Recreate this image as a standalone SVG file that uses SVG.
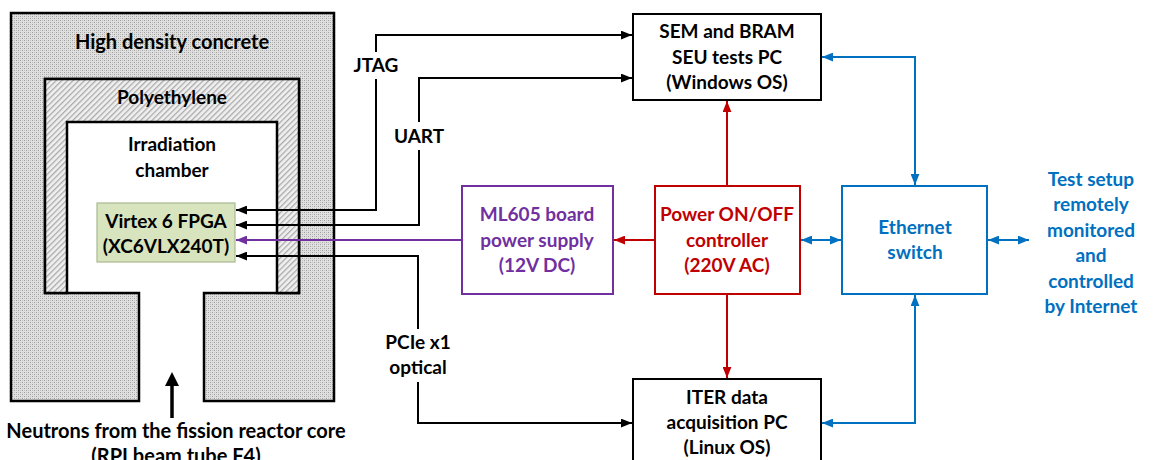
<svg xmlns="http://www.w3.org/2000/svg" width="1160" height="460" viewBox="0 0 1160 460">
<style>
text{font-family:Lato,"Liberation Sans",sans-serif;font-weight:bold;font-size:19px;text-anchor:middle}
.k{fill:#000}
.pu{fill:#7030a0}
.rd{fill:#c00000}
.bl{fill:#0070c0}
.big{font-size:20px}
.wall{stroke:#000;stroke-width:2.5}
.box{fill:#fff;stroke-width:2}
.cb{fill:none;stroke:#000;stroke-width:2}
.cr{fill:none;stroke:#c00000;stroke-width:2}
.cbl{fill:none;stroke:#0070c0;stroke-width:2}
.cp{fill:none;stroke:#7030a0;stroke-width:2}
</style>
<defs>
<pattern id="conc" width="4" height="4" patternUnits="userSpaceOnUse">
<rect width="4" height="4" fill="#e0e0e0"/>
<rect width="1" height="1" fill="#a0a0a0"/>
<rect x="2" y="2" width="1" height="1" fill="#a0a0a0"/>
<rect x="2" y="0" width="1" height="1" fill="#c0c0c0"/>
<rect x="0" y="2" width="1" height="1" fill="#c0c0c0"/>
</pattern>
<pattern id="poly" width="4" height="4" patternUnits="userSpaceOnUse" patternTransform="rotate(-45)">
<rect width="4" height="4" fill="#f0f0f0"/>
<rect width="4" height="1.3" fill="#aaaaaa"/>
</pattern>
<marker id="ak" viewBox="0 0 10 8" refX="10" refY="4" markerWidth="11" markerHeight="9" markerUnits="userSpaceOnUse" orient="auto-start-reverse"><path d="M0,0L10,4L0,8Z" fill="#000"/></marker>
<marker id="ar" viewBox="0 0 10 8" refX="10" refY="4" markerWidth="11" markerHeight="9" markerUnits="userSpaceOnUse" orient="auto-start-reverse"><path d="M0,0L10,4L0,8Z" fill="#c00000"/></marker>
<marker id="ab" viewBox="0 0 10 8" refX="10" refY="4" markerWidth="11" markerHeight="9" markerUnits="userSpaceOnUse" orient="auto-start-reverse"><path d="M0,0L10,4L0,8Z" fill="#0070c0"/></marker>
<marker id="ap" viewBox="0 0 10 8" refX="10" refY="4" markerWidth="11" markerHeight="9" markerUnits="userSpaceOnUse" orient="auto-start-reverse"><path d="M0,0L10,4L0,8Z" fill="#7030a0"/></marker>
</defs>
<rect width="1160" height="460" fill="#fff"/>

<g id="shielding">
<path class="wall" fill="url(#conc)" d="M11,13H334V401H204V293H299V79H45V293H139V401H11Z"/>
<path class="wall" fill="url(#poly)" d="M45,79H299V293H277V122H67V293H45Z"/>
<text class="k big" x="172" y="49">High density concrete</text>
<text class="k" x="172" y="104">Polyethylene</text>
<text class="k" x="172" y="151">Irradiation</text>
<text class="k" x="172" y="177">chamber</text>
</g>

<g id="fpga">
<rect x="97" y="203" width="138" height="59" fill="#d7e4bd" stroke="#a9b98f" stroke-width="1.2"/>
<text class="k" x="166" y="228">Virtex 6 FPGA</text>
<text class="k" x="166" y="253">(XC6VLX240T)</text>
</g>

<g id="neutrons">
<path d="M172,418V384" stroke="#000" stroke-width="3.5" fill="none"/>
<path d="M172,372L179,386H165Z" fill="#000"/>
<text class="k big" x="176" y="438">Neutrons from the fission reactor core</text>
<text class="k big" x="176" y="463">(RPI beam tube F4)</text>
</g>

<g id="sem">
<rect class="box" x="633" y="14" width="188" height="86" stroke="#000"/>
<text class="k" x="727" y="38">SEM and BRAM</text>
<text class="k" x="727" y="64">SEU tests PC</text>
<text class="k" x="727" y="89">(Windows OS)</text>
</g>

<g id="ml605">
<rect class="box" x="462" y="186" width="151" height="108" stroke="#7030a0"/>
<text class="pu" x="537" y="221">ML605 board</text>
<text class="pu" x="537" y="247">power supply</text>
<text class="pu" x="537" y="272">(12V DC)</text>
</g>

<g id="power">
<rect class="box" x="655" y="186" width="145" height="108" stroke="#c00000"/>
<text class="rd" x="727" y="221">Power ON/OFF</text>
<text class="rd" x="727" y="247">controller</text>
<text class="rd" x="727" y="272">(220V AC)</text>
</g>

<g id="ethernet">
<rect class="box" x="842" y="186" width="145" height="108" stroke="#0070c0"/>
<text class="bl" x="915" y="234">Ethernet</text>
<text class="bl" x="915" y="259">switch</text>
</g>

<g id="iter">
<rect class="box" x="633" y="379" width="188" height="90" stroke="#000"/>
<text class="k" x="727" y="404">ITER data</text>
<text class="k" x="727" y="429">acquisition PC</text>
<text class="k" x="727" y="454">(Linux OS)</text>
</g>

<g id="internet">
<text class="bl" x="1091" y="186">Test setup</text>
<text class="bl" x="1091" y="211">remotely</text>
<text class="bl" x="1091" y="237">monitored</text>
<text class="bl" x="1091" y="262">and</text>
<text class="bl" x="1091" y="288">controlled</text>
<text class="bl" x="1091" y="313">by Internet</text>
</g>

<g id="connectors">
<path class="cb" d="M376,52V35H632" marker-end="url(#ak)"/>
<path class="cb" d="M376,79V210H236" marker-end="url(#ak)"/>
<path class="cb" d="M419,122V78H632" marker-end="url(#ak)"/>
<path class="cb" d="M419,150V225H236" marker-end="url(#ak)"/>
<path class="cp" d="M462,240H236" marker-end="url(#ap)"/>
<path class="cb" d="M418,329V256H236" marker-end="url(#ak)"/>
<path class="cb" d="M418,382V423H632" marker-end="url(#ak)"/>
<path class="cr" d="M655,240H614" marker-end="url(#ar)"/>
<path class="cr" d="M727,186V101" marker-end="url(#ar)"/>
<path class="cr" d="M727,294V378" marker-end="url(#ar)"/>
<path class="cbl" d="M822,57H915V185" marker-start="url(#ab)" marker-end="url(#ab)"/>
<path class="cbl" d="M822,423H915V295" marker-start="url(#ab)" marker-end="url(#ab)"/>
<path class="cbl" d="M801,240H841" marker-start="url(#ab)" marker-end="url(#ab)"/>
<path class="cbl" d="M988,240H1029" marker-start="url(#ab)" marker-end="url(#ab)"/>
<text class="k" x="376" y="72">JTAG</text>
<text class="k" x="419" y="143">UART</text>
<text class="k" x="418" y="349">PCIe x1</text>
<text class="k" x="418" y="374">optical</text>
</g>
</svg>
